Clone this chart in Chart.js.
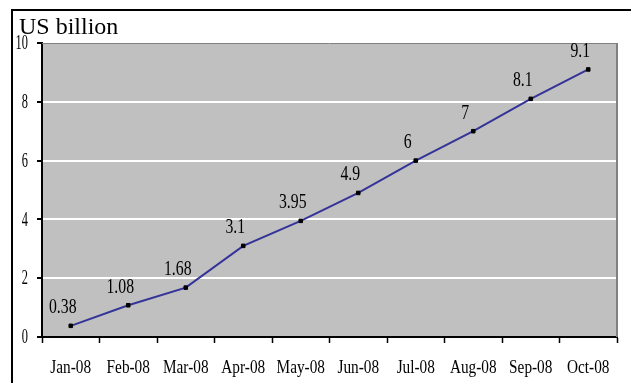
<!DOCTYPE html>
<html>
<head>
<meta charset="utf-8">
<script src="https://cdn.jsdelivr.net/npm/chart.js@4/dist/chart.umd.min.js"></script>
<style>
  html, body { margin: 0; padding: 0; background: #fff; }
  #wrap { width: 631px; height: 383px; position: relative; }
</style>
</head>
<body>
<div id="wrap"><canvas id="c" width="631" height="383"></canvas></div>
<script>
// Monthly cumulative values, US$ billion
const months = ['Jan-08', 'Feb-08', 'Mar-08', 'Apr-08', 'May-08', 'Jun-08', 'Jul-08', 'Aug-08', 'Sep-08', 'Oct-08'];
const values = [0.38, 1.08, 1.68, 3.1, 3.95, 4.9, 6, 7, 8.1, 9.1];
const valueLabels = ['0.38', '1.08', '1.68', '3.1', '3.95', '4.9', '6', '7', '8.1', '9.1'];
const unitTitle = 'US billion';

const SERIF = '"Liberation Serif", "DejaVu Serif", serif';

// draw text squeezed horizontally (narrow serif look)
function narrowText(ctx, text, x, y, sx) {
  ctx.save();
  ctx.translate(x, y);
  ctx.scale(sx, 1);
  ctx.fillText(text, 0, 0);
  ctx.restore();
}

// Frame, grey plot background, plot border, axis labels and value labels
const decor = {
  id: 'decor',
  beforeDraw(chart) {
    const { ctx, chartArea: a } = chart;
    ctx.save();
    ctx.fillStyle = '#ffffff';
    ctx.fillRect(0, 0, chart.width, chart.height);
    ctx.fillStyle = '#c0c0c0';
    ctx.fillRect(a.left, a.top, a.right - a.left, a.bottom - a.top);
    ctx.restore();
  },
  afterDraw(chart) {
    const { ctx, chartArea: a } = chart;
    ctx.save();
    // outer frame (top and left edges)
    ctx.strokeStyle = '#000';
    ctx.lineWidth = 2;
    ctx.beginPath();
    ctx.moveTo(12, 383);
    ctx.lineTo(12, 10);
    ctx.lineTo(631, 10);
    ctx.stroke();
    // plot border top and right
    ctx.strokeStyle = '#808080';
    ctx.lineWidth = 1;
    ctx.beginPath();
    ctx.moveTo(a.left, a.top + 0.5);
    ctx.lineTo(a.right, a.top + 0.5);
    ctx.stroke();
    ctx.lineWidth = 2;
    ctx.beginPath();
    ctx.moveTo(a.right, a.top);
    ctx.lineTo(a.right, a.bottom);
    ctx.stroke();
    ctx.fillStyle = '#000';
    // unit title
    ctx.font = '24px ' + SERIF;
    ctx.textAlign = 'left';
    ctx.textBaseline = 'alphabetic';
    ctx.fillText(unitTitle, 19, 34);
    // y-axis tick labels
    const ys = chart.scales.y;
    ctx.font = '20px ' + SERIF;
    ctx.textAlign = 'right';
    ctx.textBaseline = 'middle';
    ys.ticks.forEach((t, i) => {
      narrowText(ctx, String(t.value), 28, ys.getPixelForTick(i) + 1, 0.62);
    });
    // x-axis category labels
    const xs = chart.scales.x;
    ctx.font = '18px ' + SERIF;
    ctx.textAlign = 'center';
    ctx.textBaseline = 'alphabetic';
    xs.ticks.forEach((t, i) => {
      narrowText(ctx, xs.getLabelForValue(t.value), xs.getPixelForTick(i), 373, 0.85);
    });
    // value labels
    const meta = chart.getDatasetMeta(0);
    ctx.font = '21px ' + SERIF;
    ctx.textAlign = 'center';
    ctx.textBaseline = 'middle';
    meta.data.forEach((pt, i) => {
      narrowText(ctx, valueLabels[i], pt.x - 8, pt.y - 18, 0.75);
    });
    ctx.restore();
  }
};

new Chart(document.getElementById('c'), {
  type: 'line',
  data: {
    labels: months,
    datasets: [{
      data: values,
      borderColor: '#333399',
      borderWidth: 2,
      tension: 0,
      pointStyle: 'rect',
      pointRadius: 2.5,
      pointBackgroundColor: '#000',
      pointBorderColor: '#000',
      pointBorderWidth: 1
    }]
  },
  options: {
    responsive: false,
    animation: false,
    devicePixelRatio: 1,
    layout: { padding: { left: 12, top: 43, right: 14, bottom: 0 } },
    plugins: { legend: { display: false }, tooltip: { enabled: false }, title: { display: false } },
    scales: {
      x: {
        type: 'category',
        offset: true,
        afterFit(s) { s.height = 46; },
        grid: { offset: true, drawOnChartArea: false, drawTicks: true, tickLength: 6, tickColor: '#000', tickWidth: 1.5 },
        border: { display: true, color: '#000', width: 2 },
        ticks: { display: false, maxRotation: 0, autoSkip: false }
      },
      y: {
        min: 0,
        max: 10,
        afterFit(s) { s.width = 30; },
        grid: { color: '#ffffff', lineWidth: 2, drawTicks: true, tickLength: 5, tickColor: '#000', tickWidth: 2 },
        border: { display: true, color: '#000', width: 2 },
        ticks: { display: false, stepSize: 2 }
      }
    }
  },
  plugins: [decor]
});
</script>
</body>
</html>
